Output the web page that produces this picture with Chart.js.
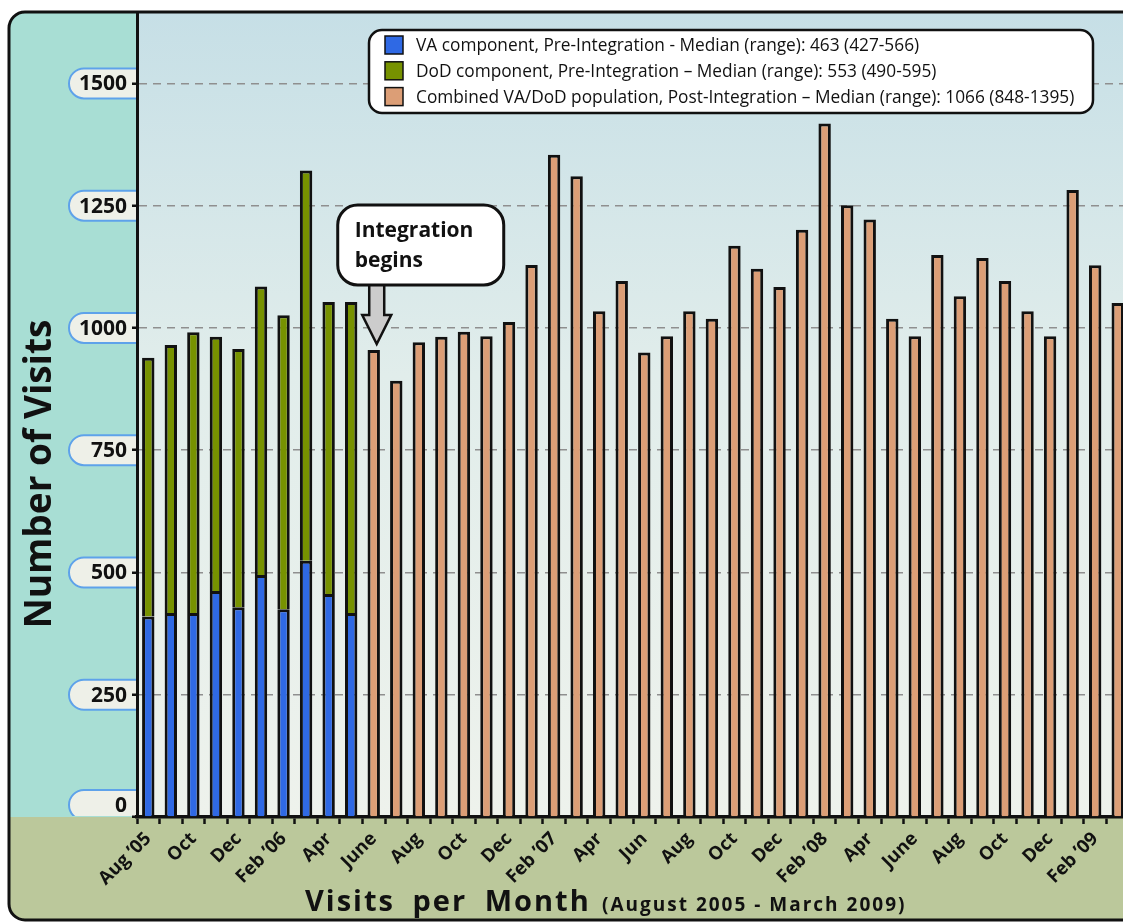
<!DOCTYPE html>
<html>
<head>
<meta charset="utf-8">
<script src="https://cdn.jsdelivr.net/npm/chart.js@4.4.1/dist/chart.umd.min.js"></script>
<style>
  html, body { margin: 0; padding: 0; background: #fff; overflow: hidden; }
  #wrap { width: 1140px; height: 923px; }
</style>
</head>
<body>
<div id="wrap"><canvas id="myChart" width="1140" height="923"></canvas></div>
<script>
const MONTHS = [
  "Aug 2005", "Sep 2005", "Oct 2005", "Nov 2005", "Dec 2005",
  "Jan 2006", "Feb 2006", "Mar 2006", "Apr 2006", "May 2006", "Jun 2006", "Jul 2006",
  "Aug 2006", "Sep 2006", "Oct 2006", "Nov 2006", "Dec 2006",
  "Jan 2007", "Feb 2007", "Mar 2007", "Apr 2007", "May 2007", "Jun 2007", "Jul 2007",
  "Aug 2007", "Sep 2007", "Oct 2007", "Nov 2007", "Dec 2007",
  "Jan 2008", "Feb 2008", "Mar 2008", "Apr 2008", "May 2008", "Jun 2008", "Jul 2008",
  "Aug 2008", "Sep 2008", "Oct 2008", "Nov 2008", "Dec 2008",
  "Jan 2009", "Feb 2009", "Mar 2009",
];

const X_TICK_LABELS = [
  "Aug \u201905", "", "Oct", "", "Dec",
  "", "Feb \u201906", "", "Apr", "", "June", "",
  "Aug", "", "Oct", "", "Dec",
  "", "Feb \u201907", "", "Apr", "", "Jun", "",
  "Aug", "", "Oct", "", "Dec",
  "", "Feb \u201908", "", "Apr", "", "June", "",
  "Aug", "", "Oct", "", "Dec",
  "", "Feb \u201909", "",
];

// pre-integration (Aug 2005 - May 2006), stacked
const VA_PRE = [410, 417, 417, 462, 429, 495, 425, 524, 456, 417];
const DOD_PRE = [529, 548, 574, 520, 528, 590, 601, 798, 597, 636];

// post-integration (Jun 2006 - Mar 2009)
const COMBINED_POST = [
  955, 892, 971, 982, 992, 983, 1012, 1129, 1354, 1310, 1034, 1096,
  950, 983, 1034, 1019, 1168, 1121, 1084, 1201, 1418, 1251, 1222, 1019,
  983, 1149, 1065, 1143, 1096, 1034, 983, 1282, 1128, 1051,
];

const Y_TICKS = [0, 250, 500, 750, 1000, 1250, 1500];

const LEGEND_LABELS = [
  "VA component, Pre-Integration - Median (range): 463 (427-566)",
  "DoD component, Pre-Integration \u2013 Median (range): 553 (490-595)",
  "Combined VA/DoD population, Post-Integration \u2013 Median (range): 1066 (848-1395)",
];

const COLORS = ["#2f69e4", "#779200", "#dc9e76"];
const FONT = "'Open Sans', 'Noto Sans', sans-serif";

const PRE_COUNT = VA_PRE.length;

function preData(values) {
  return MONTHS.map((m, i) => (i < PRE_COUNT ? values[i] : null));
}

function postData() {
  return MONTHS.map((m, i) => (i < PRE_COUNT ? null : COMBINED_POST[i - PRE_COUNT]));
}

function roundRect(ctx, x, y, w, h, r) {
  ctx.beginPath();
  ctx.moveTo(x + r, y);
  ctx.lineTo(x + w - r, y);
  ctx.arcTo(x + w, y, x + w, y + r, r);
  ctx.lineTo(x + w, y + h - r);
  ctx.arcTo(x + w, y + h, x + w - r, y + h, r);
  ctx.lineTo(x + r, y + h);
  ctx.arcTo(x, y + h, x, y + h - r, r);
  ctx.lineTo(x, y + r);
  ctx.arcTo(x, y, x + r, y, r);
  ctx.closePath();
}

const backgroundPlugin = {
  id: "panels",
  beforeDraw(chart) {
    const ctx = chart.ctx;
    const area = chart.chartArea;
    const W = chart.width;
    const frameLeft = 9, frameTop = 12, frameBottom = 920;

    ctx.save();
    ctx.fillStyle = "#ffffff";
    ctx.fillRect(0, 0, W, chart.height);

    roundRect(ctx, frameLeft, frameTop, W + 40, frameBottom - frameTop, 16);
    ctx.save();
    ctx.clip();
    ctx.fillStyle = "#a8ded4";
    ctx.fillRect(frameLeft, frameTop, area.left - frameLeft, area.bottom - frameTop);
    const grad = ctx.createLinearGradient(0, frameTop, 0, area.bottom);
    grad.addColorStop(0, "#c6dfe6");
    grad.addColorStop(0.45, "#e1edeb");
    grad.addColorStop(1, "#eef2ec");
    ctx.fillStyle = grad;
    ctx.fillRect(area.left, frameTop, W - area.left, area.bottom - frameTop);
    ctx.fillStyle = "#bbc89b";
    ctx.fillRect(frameLeft, area.bottom, W, frameBottom - area.bottom);
    ctx.restore();
    ctx.lineWidth = 3;
    ctx.strokeStyle = "#111";
    ctx.stroke();

    // y tick labels in pills
    const ys = chart.scales.y;
    ctx.save();
    ctx.beginPath();
    ctx.rect(0, 0, area.left, area.bottom - 1);
    ctx.clip();
    Y_TICKS.forEach((v) => {
      const y = ys.getPixelForValue(v);
      const cy = v === 0 ? y - 12 : y;
      const r = 15;
      const x0 = 69;
      ctx.beginPath();
      ctx.moveTo(area.left, cy - r);
      ctx.lineTo(x0 + r, cy - r);
      ctx.arc(x0 + r, cy, r, -Math.PI / 2, Math.PI / 2, true);
      ctx.lineTo(area.left, cy + r);
      ctx.fillStyle = "#eef0e8";
      ctx.fill();
      ctx.lineWidth = 2;
      ctx.strokeStyle = "#5ea2ea";
      ctx.stroke();
      ctx.fillStyle = "#111";
      ctx.font = "bold 21px " + FONT;
      ctx.textAlign = "right";
      ctx.textBaseline = "middle";
      ctx.fillText(String(v), 127, cy + 1);
    });
    ctx.restore();

    // y title
    ctx.save();
    ctx.translate(40, 474);
    ctx.rotate(-Math.PI / 2);
    ctx.fillStyle = "#111";
    ctx.font = "bold 37px " + FONT;
    ctx.textAlign = "center";
    ctx.textBaseline = "middle";
    ctx.fillText("Number of Visits", 0, 0);
    ctx.restore();

    ctx.restore();
  },
  afterDraw(chart) {
    const ctx = chart.ctx;
    const xs = chart.scales.x;
    const ys = chart.scales.y;

    // legend box
    ctx.save();
    roundRect(ctx, 369, 30, 724, 83, 13);
    ctx.fillStyle = "#ffffff";
    ctx.fill();
    ctx.lineWidth = 2.5;
    ctx.strokeStyle = "#111";
    ctx.stroke();
    chart.data.datasets.forEach((ds, i) => {
      const cy = 45 + i * 25.8;
      ctx.fillStyle = ds.backgroundColor;
      ctx.fillRect(385, cy - 9, 18, 18);
      ctx.lineWidth = 1.5;
      ctx.strokeStyle = "#111";
      ctx.strokeRect(385, cy - 9, 18, 18);
      ctx.fillStyle = "#111";
      ctx.font = "500 17.3px " + FONT;
      ctx.textAlign = "left";
      ctx.textBaseline = "middle";
      ctx.fillText(ds.label, 416, cy + 1);
    });
    ctx.restore();

    // "Integration begins" callout
    const cx = xs.getPixelForValue(PRE_COUNT) + 3;
    const tipY = ys.getPixelForValue(COMBINED_POST[0]) - 6;
    ctx.save();
    ctx.beginPath();
    ctx.moveTo(cx - 7.5, 284);
    ctx.lineTo(cx - 7.5, tipY - 29);
    ctx.lineTo(cx - 14.5, tipY - 29);
    ctx.lineTo(cx, tipY);
    ctx.lineTo(cx + 14.5, tipY - 29);
    ctx.lineTo(cx + 7.5, tipY - 29);
    ctx.lineTo(cx + 7.5, 284);
    ctx.closePath();
    ctx.fillStyle = "#cccccc";
    ctx.fill();
    ctx.lineWidth = 2.5;
    ctx.strokeStyle = "#111";
    ctx.lineJoin = "miter";
    ctx.stroke();
    roundRect(ctx, cx - 39, 205, 166, 80, 20);
    ctx.fillStyle = "#ffffff";
    ctx.fill();
    ctx.lineWidth = 3;
    ctx.stroke();
    ctx.fillStyle = "#111";
    ctx.font = "bold 21px " + FONT;
    ctx.textAlign = "left";
    ctx.textBaseline = "alphabetic";
    ctx.fillText("Integration", cx - 22, 237);
    ctx.fillText("begins", cx - 22, 267);
    ctx.restore();

    // x title
    ctx.save();
    ctx.fillStyle = "#111";
    ctx.textAlign = "left";
    ctx.textBaseline = "alphabetic";
    ctx.font = "bold 29px " + FONT;
    ctx.letterSpacing = "2px";
    ctx.wordSpacing = "8px";
    ctx.fillText("Visits per Month", 305, 911);
    ctx.font = "bold 19px " + FONT;
    ctx.letterSpacing = "2px";
    ctx.wordSpacing = "0px";
    ctx.fillText("(August 2005 - March 2009)", 602, 911);
    ctx.restore();
  },
};

const ctx = document.getElementById("myChart").getContext("2d");

new Chart(ctx, {
  type: "bar",
  data: {
    labels: MONTHS,
    datasets: [
      {
        label: LEGEND_LABELS[0],
        data: preData(VA_PRE),
        backgroundColor: COLORS[0],
      },
      {
        label: LEGEND_LABELS[1],
        data: preData(DOD_PRE),
        backgroundColor: COLORS[1],
      },
      {
        label: LEGEND_LABELS[2],
        data: postData(),
        backgroundColor: COLORS[2],
      },
    ],
  },
  options: {
    responsive: false,
    animation: false,
    layout: {
      padding: { top: 14, right: 11, bottom: 0, left: 0 },
    },
    datasets: {
      bar: {
        borderColor: "#111",
        borderWidth: 3,
        categoryPercentage: 1,
        barPercentage: 0.55,
      },
    },
    scales: {
      x: {
        stacked: true,
        afterFit: function (scale) {
          scale.height = 106;
        },
        grid: {
          offset: true,
          drawOnChartArea: false,
          drawTicks: true,
          tickLength: 7,
          tickColor: "#111",
          tickWidth: 2.5,
        },
        border: {
          display: true,
          color: "#111",
          width: 3.5,
        },
        ticks: {
          autoSkip: false,
          minRotation: 45,
          maxRotation: 45,
          padding: 4,
          color: "#111",
          font: { family: FONT, size: 18.5, weight: "bold" },
          callback: function (value, index) {
            return X_TICK_LABELS[index];
          },
        },
      },
      y: {
        stacked: true,
        min: 0,
        max: 1642,
        afterFit: function (scale) {
          scale.width = 137;
        },
        afterBuildTicks: function (scale) {
          scale.ticks = Y_TICKS.map((v) => ({ value: v }));
        },
        grid: {
          color: function (context) {
            if (context.tick && context.tick.value === 0) {
              return "rgba(0, 0, 0, 0)";
            }
            return "#8f8f8f";
          },
          lineWidth: 1.5,
          drawTicks: true,
          tickLength: 5,
          tickColor: "#111",
          tickWidth: 2.5,
        },
        border: {
          display: true,
          color: "#111",
          width: 3,
          dash: [8, 6],
        },
        ticks: {
          display: false,
        },
      },
    },
    plugins: {
      legend: { display: false },
      tooltip: { enabled: false },
    },
  },
  plugins: [backgroundPlugin],
});
</script>
</body>
</html>
